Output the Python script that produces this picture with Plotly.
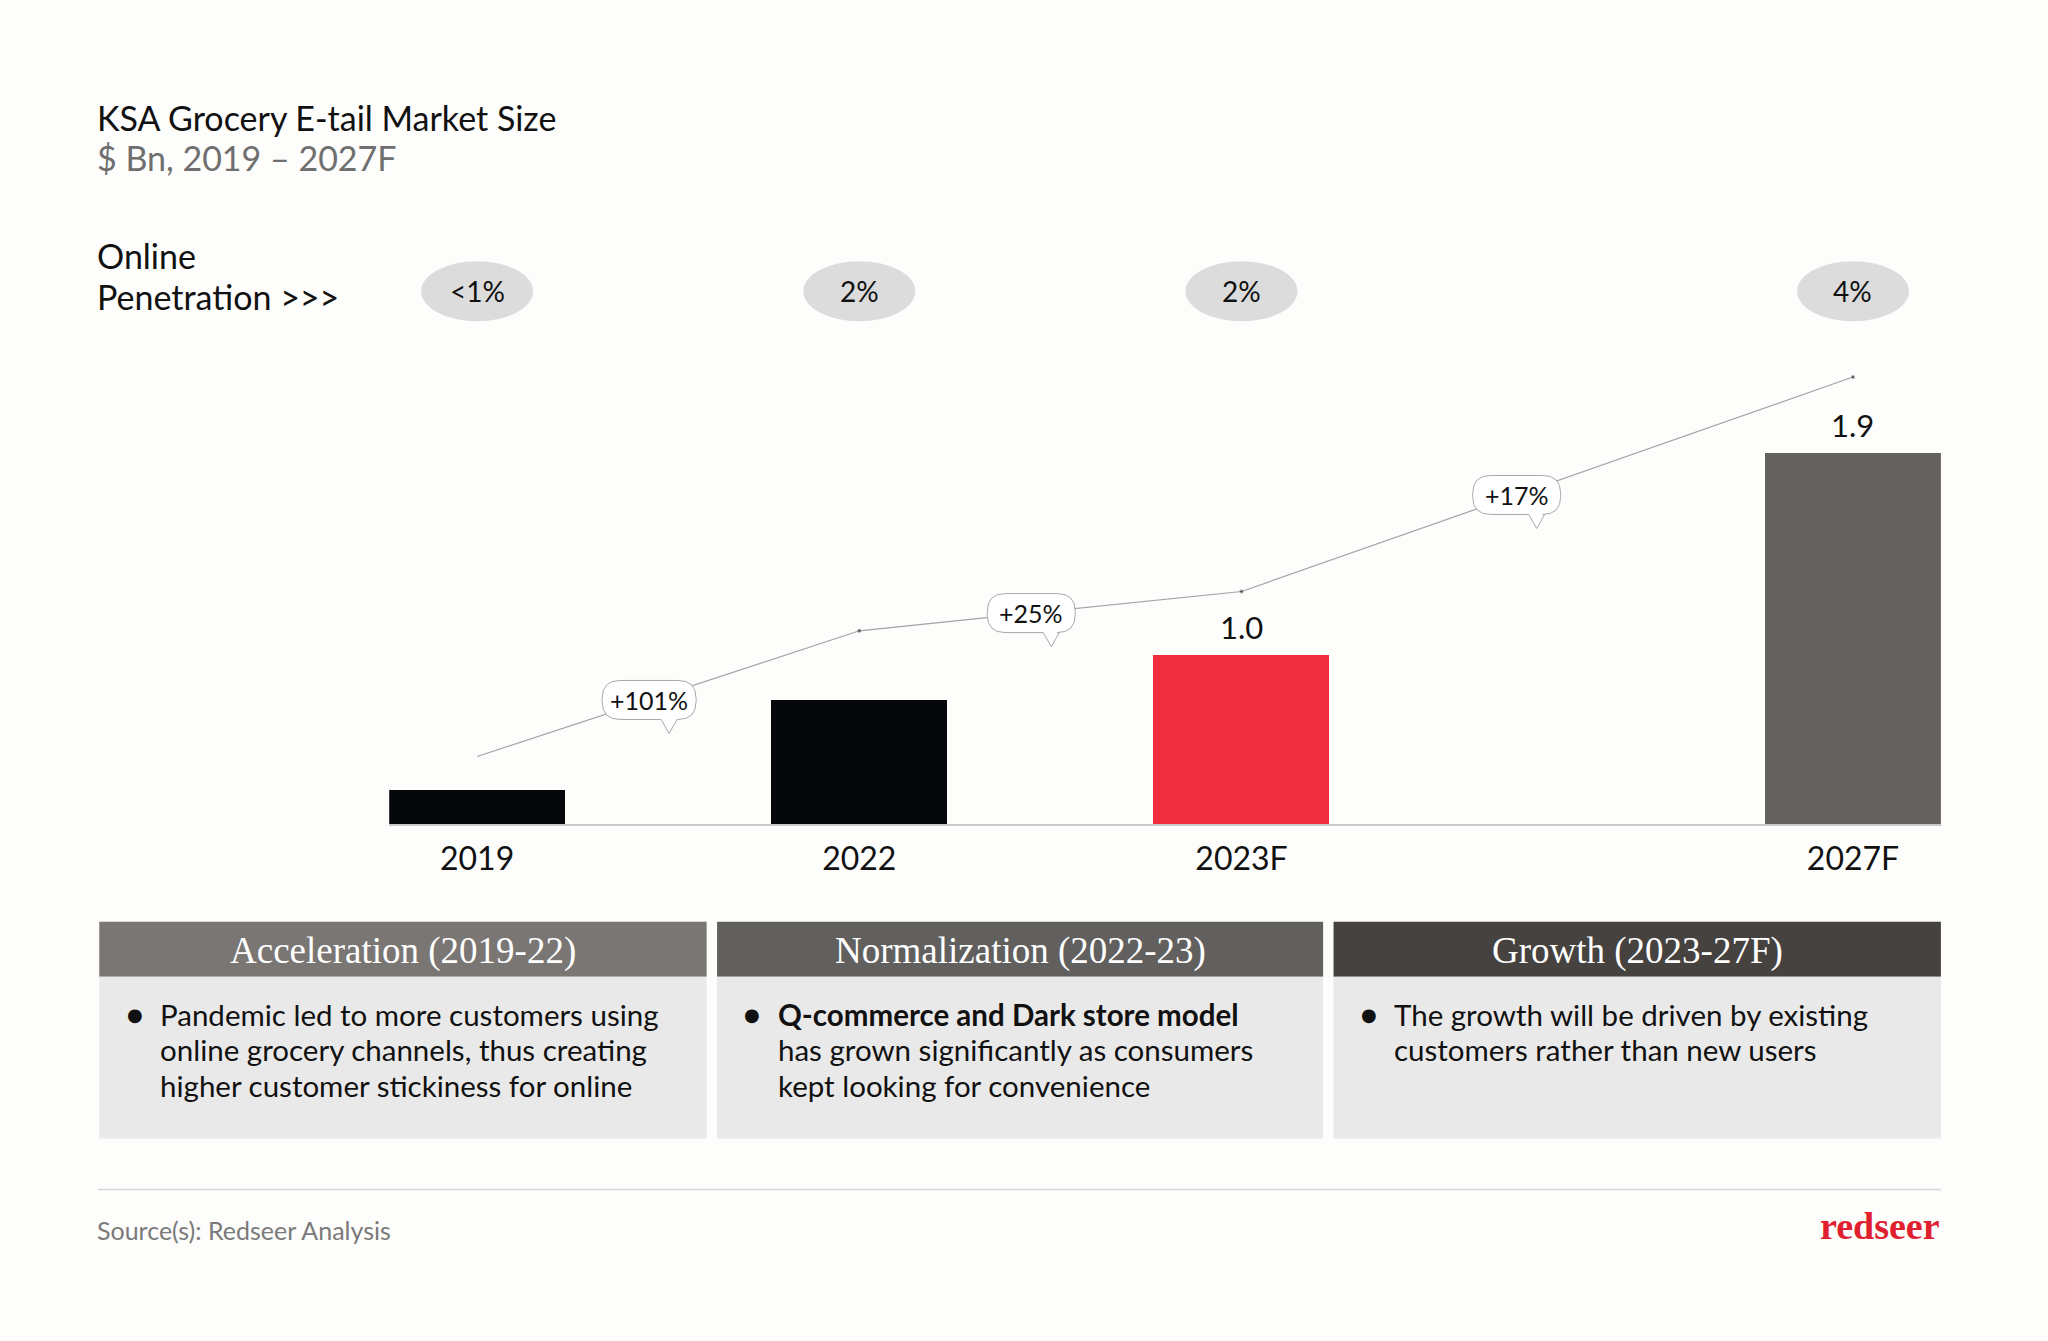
import plotly.graph_objects as go

# ---------------- data ----------------
years = ["2019", "2022", "2023F", "2027F"]
market_size = [0.4, 0.8, 1.0, 1.9]          # $ Bn
value_labels = ["", "", "1.0", "1.9"]
penetration = ["<1%", "2%", "2%", "4%"]
trend_line = [0.55, 1.11, 1.285, 2.24]
growth_labels = ["+101%", "+25%", "+17%"]
phases = ["Acceleration (2019-22)", "Normalization (2022-23)", "Growth (2023-27F)"]
phase_lines = [
    ["Pandemic led to more customers using", "online grocery channels, thus creating", "higher customer stickiness for online"],
    ["<b>Q-commerce and Dark store model</b>", "has grown significantly as consumers", "kept looking for convenience"],
    ["The growth will be driven by existing", "customers rather than new users"],
]

# ---------------- layout helpers ----------------
W, H = 2048, 1341
W0, H0 = 1568, 1027           # design grid
def fx(p): return p / W0
def fy(p): return 1 - p / H0

FONT = "Lato"
SERIF = "Liberation Serif"
x_pos = [0, 1, 2, 3.6]
bar_colors = ["#05070a", "#05070a", "#ee2e3f", "#64615f"]

fig = go.Figure()
fig.add_trace(go.Bar(
    x=x_pos, y=market_size, width=0.46,
    marker=dict(color=bar_colors, line=dict(width=0)),
    hoverinfo="skip", showlegend=False,
))
fig.add_trace(go.Scatter(
    x=x_pos, y=trend_line, mode="lines+markers",
    line=dict(color="#a3a3a3", width=1.2),
    marker=dict(size=[0, 3.5, 3.5, 3.5], color="#222"),
    hoverinfo="skip", showlegend=False,
))

shapes = []
annotations = []

def txt(x, y, text, size, color="#111", family=FONT, xanchor="center", yanchor="middle",
        xref="paper", yref="paper", **kw):
    annotations.append(dict(x=x, y=y, xref=xref, yref=yref, text=text, showarrow=False,
                            xanchor=xanchor, yanchor=yanchor,
                            font=dict(family=family, size=size, color=color), **kw))

# value labels on bars
for xp, v, lab in zip(x_pos, market_size, value_labels):
    if lab:
        txt(xp, v, lab, 31, xref="x", yref="y", yanchor="bottom", yshift=7)

# growth bubbles along the trend line
t = 0.45
for i, g in enumerate(growth_labels):
    bx = x_pos[i] + t * (x_pos[i + 1] - x_pos[i])
    by = trend_line[i] + t * (trend_line[i + 1] - trend_line[i])
    w = 94 if len(g) > 4 else 88
    h, r, dx = 39, 18, 20
    a, b = w / 2, h / 2
    path = (f"M {-a + r},{b} L {a - r},{b} Q {a},{b} {a},{b - r} L {a},{-b + r} "
            f"Q {a},{-b} {a - r},{-b} L {dx + 8},{-b} L {dx},{-b - 14} L {dx - 8},{-b} "
            f"L {-a + r},{-b} Q {-a},{-b} {-a},{-b + r} L {-a},{b - r} Q {-a},{b} {-a + r},{b} Z")
    shapes.append(dict(type="path", xref="x", yref="y", xsizemode="pixel", ysizemode="pixel",
                       xanchor=bx, yanchor=by, path=path, fillcolor="#ffffff",
                       line=dict(color="#a8a8a8", width=1), layer="above"))
    txt(bx, by, g, 25, xref="x", yref="y")

# penetration ellipses
for xp, p in zip(x_pos, penetration):
    shapes.append(dict(type="circle", xref="x", yref="paper", xsizemode="pixel", ysizemode="pixel",
                       xanchor=xp, yanchor=fy(223), x0=-56, x1=56, y0=-30, y1=30,
                       fillcolor="#dcdcdc", line=dict(width=0), layer="above"))
    txt(xp, fy(223), p, 28, xref="x")

# titles
txt(fx(73), fy(90), "KSA Grocery E-tail Market Size", 34, xanchor="left")
txt(fx(73), fy(121), "$ Bn, 2019 – 2027F", 34, color="#6f6f6f", xanchor="left")
txt(fx(73), fy(196), "Online", 34, xanchor="left")
txt(fx(73), fy(227), "Penetration >>>", 34, xanchor="left")

# phase panels
panel_x = [(76, 541), (549, 1013), (1021, 1486)]
header_colors = ["#7a7674", "#62605e", "#454240"]
line_y = [777, 804, 831]
for (x0, x1), ph, lines, hc in zip(panel_x, phases, phase_lines, header_colors):
    shapes.append(dict(type="rect", xref="paper", yref="paper", x0=fx(x0), x1=fx(x1),
                       y0=fy(748), y1=fy(706), fillcolor=hc, line=dict(width=0)))
    shapes.append(dict(type="rect", xref="paper", yref="paper", x0=fx(x0), x1=fx(x1),
                       y0=fy(872), y1=fy(748), fillcolor="#eae9e9", line=dict(width=0)))
    txt(fx((x0 + x1) / 2), fy(728), ph, 37, color="#ffffff", family=SERIF)
    txt(fx(x0 + 27), fy(777), "●", 18, family="DejaVu Sans")
    for ln, ly in zip(lines, line_y):
        txt(fx(x0 + 45), fy(ly), ln, 29.5, xanchor="left")

# footer
shapes.append(dict(type="line", xref="paper", yref="paper", x0=fx(75), x1=fx(1486), y0=fy(911), y1=fy(911),
                   line=dict(color="#d6d6d6", width=1.5)))
txt(fx(73), fy(942), "Source(s): Redseer Analysis", 25, color="#7a7a7a", xanchor="left")
txt(fx(1487), fy(939), "<b>redseer</b>", 38, color="#e0202f", family=SERIF, xanchor="right")

fig.update_layout(
    width=W, height=H, margin=dict(l=0, r=0, t=0, b=0),
    paper_bgcolor="#fdfdfb", plot_bgcolor="rgba(0,0,0,0)",
    xaxis=dict(domain=[fx(298), fx(1486)], range=[-0.23, 3.83], tickvals=x_pos, ticktext=years,
               showgrid=False, zeroline=False, showline=True, linecolor="#c9c9c9", linewidth=1.5,
               ticks="", ticklabelstandoff=6, tickfont=dict(family=FONT, size=32, color="#111"),
               fixedrange=True),
    yaxis=dict(domain=[fy(631), fy(260)], range=[0.25, 2.407], visible=False, fixedrange=True),
    shapes=shapes, annotations=annotations, bargap=0,
)

fig.write_html("out.html", config={"displayModeBar": False},
               post_script="document.body.style.margin='0';document.body.style.overflow='hidden';")
